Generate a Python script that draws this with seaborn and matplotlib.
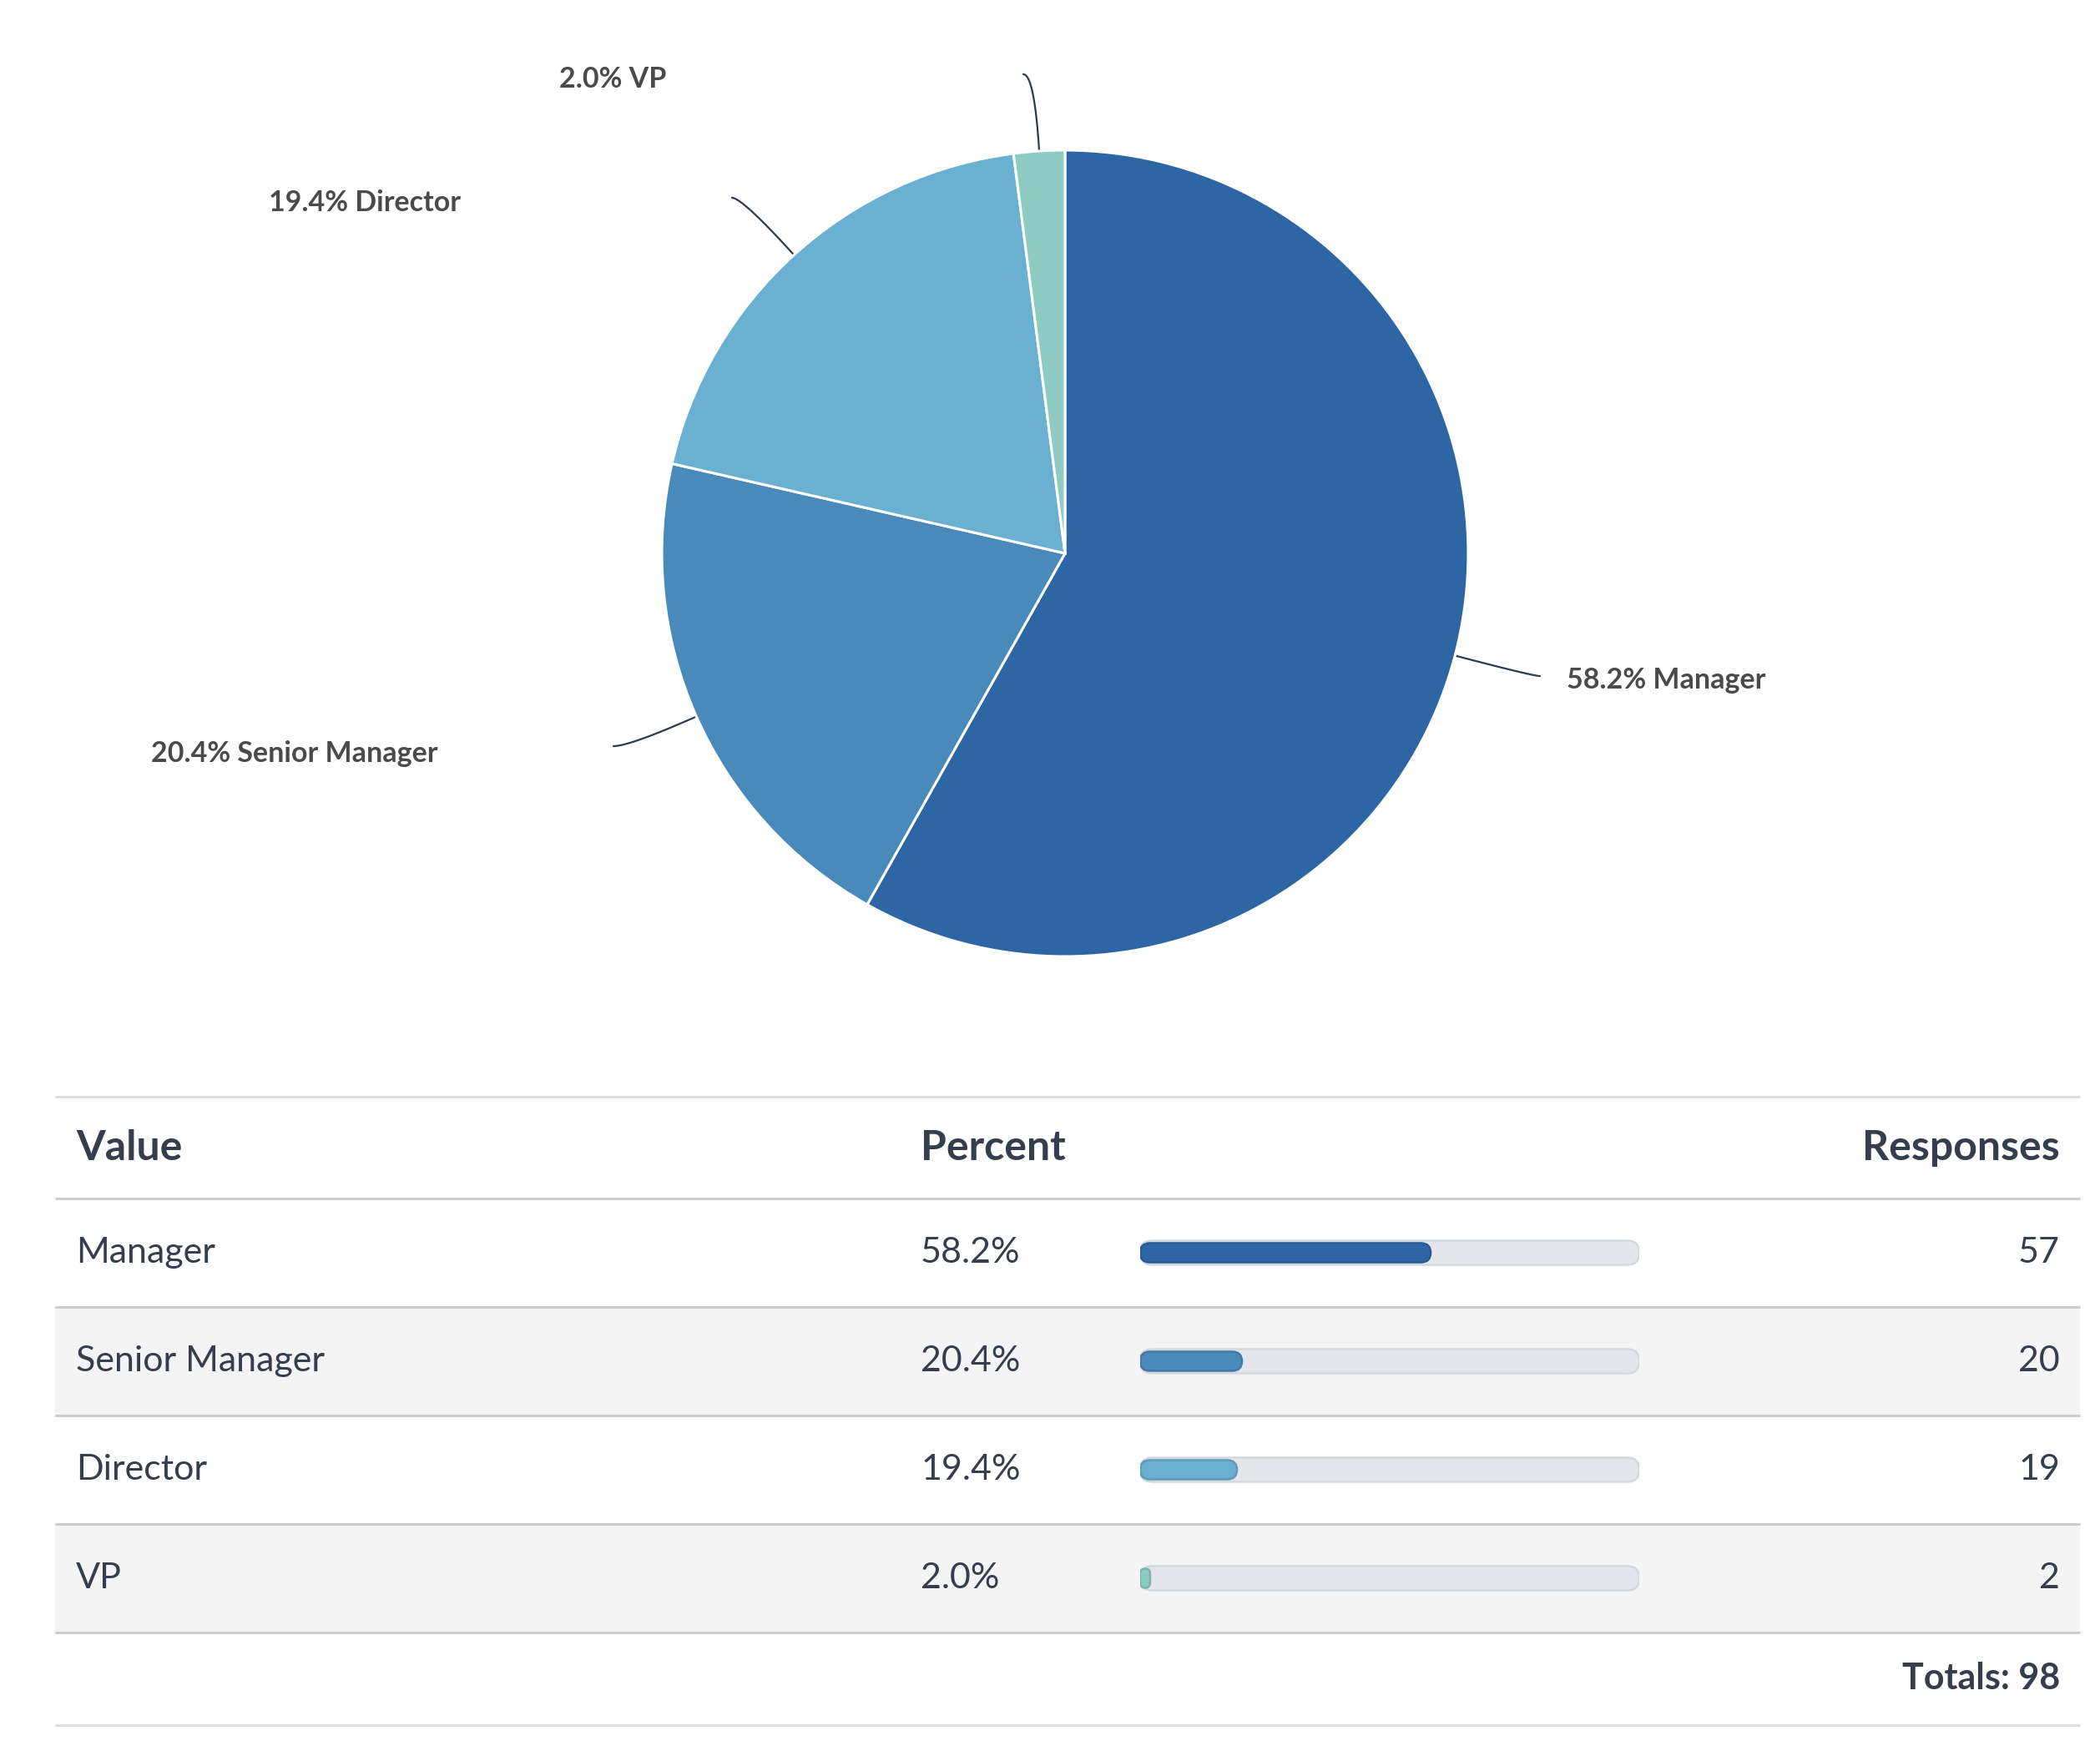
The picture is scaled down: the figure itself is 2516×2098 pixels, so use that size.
import numpy as np
import pandas as pd
import seaborn as sns
import matplotlib.pyplot as plt
from matplotlib.patches import FancyBboxPatch
from matplotlib.colors import to_rgb

sns.set_theme(style='white')
plt.rcParams['font.family'] = ['Lato', 'DejaVu Sans']

# данные
categories = ['Manager', 'Senior Manager', 'Director', 'VP']
responses = [57, 20, 19, 2]
colors = ['#2e66a5', '#4a8aba', '#6ab0d0', '#8ecbc3']

total = sum(responses)
percents = [round(r / total * 100, 1) for r in responses]

# размещение подписей пирога (пиксели, y вниз)
label_pos = [(1877, 815), (181, 903), (322, 243), (670, 95)]
conn_end = [(1845, 810), (735, 894), (877, 237), (1226, 89)]

W, H = 2516, 2098
TXT = '#363d4c'
fig = plt.figure(figsize=(W / 100, H / 100), dpi=100)

# базовые оси в пикселях
ax = fig.add_axes([0, 0, 1, 1])
ax.set_xlim(0, W)
ax.set_ylim(H, 0)
ax.axis('off')

# пирог
cx, cy, R = 1276, 663, 483
ax_pie = fig.add_axes([(cx - R) / W, (H - cy - R) / H, 2 * R / W, 2 * R / H])
wedges, _ = ax_pie.pie(responses, colors=colors, startangle=90, counterclock=False,
                       wedgeprops=dict(edgecolor='white', linewidth=2.2))
ax_pie.set_xlim(-1, 1)
ax_pie.set_ylim(-1, 1)
ax_pie.set_aspect('equal')
ax_pie.patch.set_alpha(0)

# подписи и выноски
for w, cat, pct, (lx, ly), (ex, ey) in zip(wedges, categories, percents, label_pos, conn_end):
    th = np.deg2rad((w.theta1 + w.theta2) / 2)
    u = np.array([np.cos(th), -np.sin(th)])
    p0 = np.array([cx, cy]) + R * u
    p2 = np.array([ex, ey])
    t = (ey - p0[1]) / u[1] if abs(u[1]) > 1e-3 else 40
    p1 = p0 + max(t, 0) * u
    s = np.linspace(0, 1, 50)[:, None]
    pts = (1 - s) ** 2 * p0 + 2 * (1 - s) * s * p1 + s ** 2 * p2
    ax.plot(pts[:, 0], pts[:, 1], color='#2f3b4c', lw=1.6)
    ax.text(lx, ly, f'{pct:.1f}% {cat}', fontsize=24.5, fontweight='bold',
            color='#4a4a4a', ha='left', va='center')

# таблица
x0, x1 = 66, 2492
row_lines = [1314, 1436, 1566, 1696, 1826, 1956, 2067]
for i in [1, 3]:
    ax.fill_between([x0, x1], row_lines[i + 1], row_lines[i + 2], color='#f4f4f4', lw=0)
for k, y in enumerate(row_lines):
    c = '#dedede' if k in (0, len(row_lines) - 1) else '#cccccc'
    ax.plot([x0, x1], [y, y], color=c, lw=2.2, solid_capstyle='butt')

hy = (row_lines[0] + row_lines[1]) / 2
ax.text(91, hy, 'Value', fontsize=36, fontweight='bold', color=TXT, va='center')
ax.text(1103, hy, 'Percent', fontsize=36, fontweight='bold', color=TXT, va='center')
ax.text(2468, hy, 'Responses', fontsize=36, fontweight='bold', color=TXT, va='center', ha='right')

for i, (cat, pct, n) in enumerate(zip(categories, percents, responses)):
    ry = (row_lines[i + 1] + row_lines[i + 2]) / 2
    ax.text(91, ry, cat, fontsize=31, color=TXT, va='center')
    ax.text(1103, ry, f'{pct:.1f}%', fontsize=31, color=TXT, va='center')
    ax.text(2468, ry, str(n), fontsize=31, color=TXT, va='center', ha='right')

ty = (row_lines[5] + row_lines[6]) / 2
ax.text(2468, ty, f'Totals: {total}', fontsize=31, fontweight='bold', color=TXT,
        va='center', ha='right')

# полоски процентов
bx0, bx1 = 1366, 1964
ax_bar = fig.add_axes([bx0 / W, (H - row_lines[5]) / H, (bx1 - bx0) / W,
                       (row_lines[5] - row_lines[1]) / H])
df = pd.DataFrame({'category': categories, 'percent': percents, 'track': [100] * len(categories)})
sns.barplot(data=df, x='track', y='category', color='#e4e6eb', width=29 / 130,
            errorbar=None, saturation=1, ax=ax_bar)
sns.barplot(data=df, x='percent', y='category', hue='category', palette=colors,
            width=23 / 130, errorbar=None, saturation=1, legend=False, ax=ax_bar)
ax_bar.set_xlim(0, 100)
ax_bar.set_ylim(len(categories) - 0.5, -0.5)
ax_bar.axis('off')
ax_bar.patch.set_alpha(0)

px_x = (bx1 - bx0) / 100
px_y = 130
m = px_x / px_y
patches = list(ax_bar.patches)
for j, p in enumerate(patches):
    x, y, w, h = p.get_x(), p.get_y(), p.get_width(), p.get_height()
    if w <= 0:
        continue
    track = j < len(categories)
    r = (14.5 if track else 11.5) / px_x
    r = min(r, w / 2, h / m / 2)
    fc = p.get_facecolor()
    ec = '#d3d8e0' if track else tuple(np.array(to_rgb(fc)) * 0.88)
    fb = FancyBboxPatch((x, y), w, h, boxstyle=f'round,pad=0,rounding_size={r}',
                        mutation_aspect=m, fc=fc, ec=ec, lw=1.8, zorder=2 if track else 3)
    p.remove()
    ax_bar.add_patch(fb)

fig.savefig('out.png', dpi=100)
